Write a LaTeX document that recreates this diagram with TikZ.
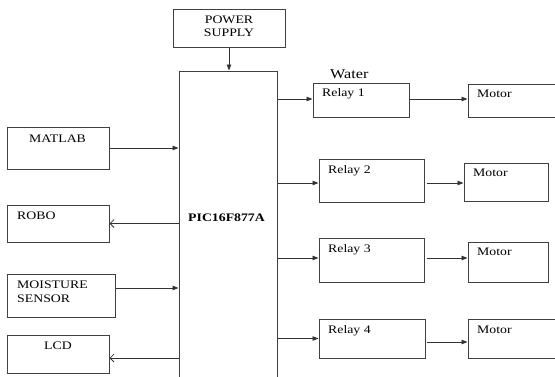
\documentclass[tikz,border=0pt]{standalone}
\usepackage{fontspec}
\setmainfont{Liberation Serif}[FakeStretch=1.2]
\usetikzlibrary{arrows.meta}
\tikzset{
  box/.style={draw=black!75, line width=1pt, rectangle, inner sep=0pt},
  lbl/.style={anchor=base west, inner sep=0pt, font=\fontsize{11.5}{13}\selectfont},
  arr/.style={draw=black!80, line width=0.9pt, -{Triangle[length=6pt,width=4.5pt]}},
  oarr/.style={draw=black!80, line width=0.9pt, -{Straight Barb[length=4pt,width=8pt,line width=0.8pt]}}
}
\begin{document}
\begin{tikzpicture}[x=1pt,y=-1pt]
\useasboundingbox (0,0) rectangle (555,376);
\fill[white] (0,0) rectangle (555,376);
\clip (0,0) rectangle (555,376);
% boxes (centre, size)
\node[box, minimum width=112pt, minimum height=38pt] (ps) at (229,28) {};
\node[box, minimum width=98pt, minimum height=339pt] (pic) at (228,240.5) {};
\node[box, minimum width=102pt, minimum height=42pt] (matlab) at (58,148) {};
\node[box, minimum width=102pt, minimum height=37pt] (robo) at (58,223.5) {};
\node[box, minimum width=108pt, minimum height=43pt] (moist) at (61,295.5) {};
\node[box, minimum width=102pt, minimum height=38pt] (lcd) at (58,354) {};
\node[box, minimum width=96pt, minimum height=34pt] (r1) at (361,100) {};
\node[box, minimum width=105pt, minimum height=43pt] (r2) at (371.5,180.5) {};
\node[box, minimum width=105pt, minimum height=44pt] (r3) at (371.5,260) {};
\node[box, minimum width=106pt, minimum height=39pt] (r4) at (372,338.5) {};
\node[box, minimum width=102pt, minimum height=33pt] (m1) at (519,100.5) {};
\node[box, minimum width=84pt, minimum height=38pt] (m2) at (506,182) {};
\node[box, minimum width=80pt, minimum height=40pt] (m3) at (508,262) {};
\node[box, minimum width=102pt, minimum height=39pt] (m4) at (519,338.5) {};
% texts
\node[lbl, anchor=base] (tps1) at (229,23) {POWER};
\node[lbl, anchor=base] (tps2) at (229,36.5) {SUPPLY};
\node[lbl] (tmatlab) at (29,142) {MATLAB};
\node[lbl] (trobo) at (17,219) {ROBO};
\node[lbl] (tmoist1) at (17,288) {MOISTURE};
\node[lbl] (tmoist2) at (17,302) {SENSOR};
\node[lbl] (tlcd) at (44,349) {LCD};
\node[lbl, font=\fontsize{11.5}{13}\selectfont\bfseries] (tpic) at (188,221) {PIC16F877A};
\node[lbl, font=\fontsize{13.5}{15}\selectfont] (twater) at (330,78) {Water};
\node[lbl] (tr1) at (322,96) {Relay 1};
\node[lbl] (tr2) at (328,173) {Relay 2};
\node[lbl] (tr3) at (328,252) {Relay 3};
\node[lbl] (tr4) at (328,333) {Relay 4};
\node[lbl] (tm1) at (477,97.5) {Motor};
\node[lbl] (tm2) at (473,176.5) {Motor};
\node[lbl] (tm3) at (477,255.5) {Motor};
\node[lbl] (tm4) at (477,333.5) {Motor};
% connectors
\draw[arr] (ps.south) -- (ps.south |- pic.north);
\draw[arr] (matlab.east) -- (matlab.east -| pic.west);
\draw[oarr] (robo.east -| pic.west) -- (robo.east);
\draw[arr] ([yshift=7.5pt]moist.east) -- ([yshift=7.5pt]moist.east -| pic.west);
\draw[oarr] ([yshift=-4pt]lcd.east -| pic.west) -- ([yshift=-4pt]lcd.east);
\draw[arr] ([yshift=1pt]r1.west -| pic.east) -- ([yshift=1pt]r1.west);
\draw[arr] ([yshift=-2.5pt]r2.west -| pic.east) -- ([yshift=-2.5pt]r2.west);
\draw[arr] ([yshift=2pt]r3.west -| pic.east) -- ([yshift=2pt]r3.west);
\draw[arr] (r4.west -| pic.east) -- (r4.west);
\draw[arr] ([yshift=1pt]r1.east) -- ([yshift=1pt]r1.east -| m1.west);
\draw[arr] ([yshift=-2.5pt,xshift=2pt]r2.east) -- ([yshift=-2.5pt]r2.east -| m2.west);
\draw[arr] ([yshift=2pt,xshift=2pt]r3.east) -- ([yshift=2pt]r3.east -| m3.west);
\draw[arr] ([yshift=-3.5pt,xshift=1pt]r4.east) -- ([yshift=-3.5pt]r4.east -| m4.west);
\end{tikzpicture}
\end{document}
